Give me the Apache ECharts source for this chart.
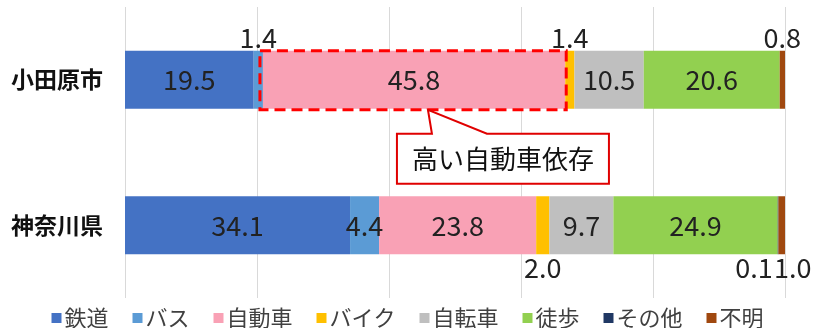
<!DOCTYPE html>
<html>
<head>
<meta charset="utf-8">
<script src="https://cdn.jsdelivr.net/npm/echarts@6/dist/echarts.min.js"></script>
<style>
  html, body { margin: 0; padding: 0; background: #fff; }
  #chart { width: 815px; height: 328px; }
</style>
</head>
<body>
<div id="chart"></div>
<script>
// 代表交通手段別の構成比（%）
const categories = ['小田原市', '神奈川県'];
const modes = ['鉄道', 'バス', '自動車', 'バイク', '自転車', '徒歩', 'その他', '不明'];
const odawara = [19.5, 1.4, 45.8, 1.4, 10.5, 20.6, 0, 0.8];
const kanagawa = [34.1, 4.4, 23.8, 2.0, 9.7, 24.9, 0.1, 1.0];
const noteText = '高い自動車依存';

const colors = ['#4472C4', '#5B9BD5', '#F9A1B5', '#FFC000', '#BFBFBF', '#92D050', '#203864', '#A0480F'];
const FONT = '"Noto Sans CJK JP", "Noto Sans", sans-serif';
const TEXT = '#222';

// 細い区間のラベルは棒の外側へ出す
const outside = [
  { 1: { position: 'top' }, 3: { position: 'top' }, 7: { position: 'top' } },
  { 3: { position: 'bottom' }, 6: { position: 'bottom', offset: [-24, 0] }, 7: { position: 'bottom', offset: [11, 0] } }
];

const rows = [odawara, kanagawa];

const series = modes.map((name, si) => ({
  name,
  type: 'bar',
  stack: 'total',
  barWidth: 58,
  itemStyle: { color: colors[si] },
  data: rows.map((row, ri) => {
    const v = row[si];
    const o = outside[ri][si];
    const label = {
      show: v > 0,
      position: o ? o.position : 'inside',
      distance: o ? 0 : 5,
      offset: o && o.offset ? o.offset : [0, 0],
      fontSize: 27,
      fontFamily: FONT,
      color: TEXT,
      formatter: p => p.value.toFixed(1)
    };
    return { value: v, label };
  })
}));

const chart = echarts.init(document.getElementById('chart'), null, { renderer: 'canvas' });
chart.setOption({
  animation: false,
  backgroundColor: '#fff',
  grid: { left: 125, right: 30, top: 7, bottom: 30 },
  xAxis: {
    type: 'value', min: 0, max: 100, interval: 20,
    axisLabel: { show: false },
    axisLine: { show: false },
    axisTick: { show: false },
    splitLine: { show: true, lineStyle: { color: '#D9D9D9', width: 1 } }
  },
  yAxis: {
    type: 'category', inverse: true, data: categories,
    axisLine: { show: false },
    axisTick: { show: false },
    axisLabel: { fontSize: 23, fontWeight: 'bold', fontFamily: FONT, color: '#111', margin: 22 }
  },
  legend: {
    data: modes,
    left: 'center', top: 302,
    icon: 'rect', itemWidth: 10, itemHeight: 10, itemGap: 24,
    textStyle: { fontSize: 22, fontFamily: FONT, color: '#404040', padding: [0, 0, 0, -2] }
  },
  series
});

// 小田原市の自動車区間を破線で囲み、吹き出しを添える
function drawNote() {
  const start = odawara[0] + odawara[1];
  const end = start + odawara[2];
  const p0 = chart.convertToPixel({ gridIndex: 0 }, [start, 0]);
  const p1 = chart.convertToPixel({ gridIndex: 0 }, [end, 0]);
  const top = p0[1] - 29, bottom = p0[1] + 30;
  const left = p0[0] - 3, right = p1[0] + 1;

  const boxL = left + 137, boxR = left + 349, boxT = bottom + 24, boxB = bottom + 74;
  const apexX = left + 168, apexY = bottom;
  const baseA = left + 172, baseB = left + 227;

  chart.setOption({
    graphic: [
      {
        type: 'rect', z: 100,
        shape: { x: left, y: top, width: right - left, height: bottom - top },
        style: { fill: 'none', stroke: '#FF0000', lineWidth: 3, lineDash: [11, 6] }
      },
      {
        type: 'polygon', z: 100,
        shape: { points: [[boxL, boxT], [baseA, boxT], [apexX, apexY], [baseB, boxT], [boxR, boxT], [boxR, boxB], [boxL, boxB]] },
        style: { fill: '#fff', stroke: '#E00000', lineWidth: 2 }
      },
      {
        type: 'text', z: 101,
        x: (boxL + boxR) / 2, y: (boxT + boxB) / 2,
        style: { text: noteText, fontSize: 26, fontFamily: FONT, fill: '#111', align: 'center', verticalAlign: 'middle' }
      }
    ]
  });
}
drawNote();
</script>
</body>
</html>
